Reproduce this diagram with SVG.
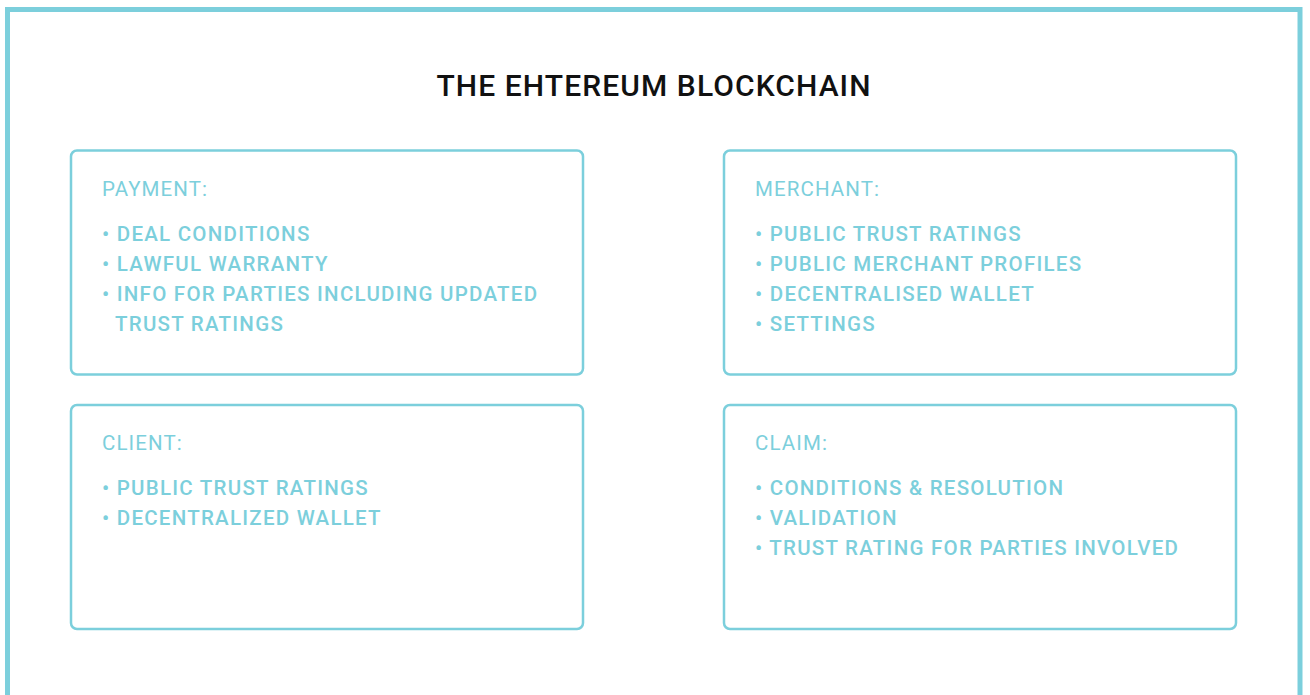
<svg xmlns="http://www.w3.org/2000/svg" width="1310" height="695" viewBox="0 0 1310 695">
<style>
.frame{fill:none;stroke:#7ccfdc;stroke-width:5}
.box{fill:#fff;stroke:#7ccfdc;stroke-width:2.5}
.title{font-family:Roboto,"Liberation Sans",sans-serif;font-size:30px;font-weight:500;fill:#111;letter-spacing:1.1px}
.head{font-family:Roboto,"Liberation Sans",sans-serif;font-size:20.5px;font-weight:400;fill:#7ccfdc;letter-spacing:1.1px}
.item{font-family:Roboto,"Liberation Sans",sans-serif;font-size:20.5px;font-weight:500;fill:#7ccfdc;letter-spacing:1.25px}
</style>
<rect width="1310" height="695" fill="#fff"/>
<rect class="frame" x="7.5" y="9.5" width="1292.5" height="700"/>
<text class="title" x="654" y="96" text-anchor="middle">THE EHTEREUM BLOCKCHAIN</text>
<g id="payment">
<rect class="box" x="71" y="150.5" width="512" height="224" rx="6"/>
<text class="head" x="102" y="196">PAYMENT:</text>
<text class="item" x="102" y="241">• DEAL CONDITIONS</text>
<text class="item" x="102" y="271">• LAWFUL WARRANTY</text>
<text class="item" x="102" y="301">• INFO FOR PARTIES INCLUDING UPDATED</text>
<text class="item" x="115" y="331">TRUST RATINGS</text>
</g>
<g id="merchant">
<rect class="box" x="724" y="150.5" width="512" height="224" rx="6"/>
<text class="head" x="755" y="196">MERCHANT:</text>
<text class="item" x="755" y="241">• PUBLIC TRUST RATINGS</text>
<text class="item" x="755" y="271">• PUBLIC MERCHANT PROFILES</text>
<text class="item" x="755" y="301">• DECENTRALISED WALLET</text>
<text class="item" x="755" y="331">• SETTINGS</text>
</g>
<g id="client">
<rect class="box" x="71" y="405" width="512" height="224" rx="6"/>
<text class="head" x="102" y="450">CLIENT:</text>
<text class="item" x="102" y="495">• PUBLIC TRUST RATINGS</text>
<text class="item" x="102" y="525">• DECENTRALIZED WALLET</text>
</g>
<g id="claim">
<rect class="box" x="724" y="405" width="512" height="224" rx="6"/>
<text class="head" x="755" y="450">CLAIM:</text>
<text class="item" x="755" y="495">• CONDITIONS &amp; RESOLUTION</text>
<text class="item" x="755" y="525">• VALIDATION</text>
<text class="item" x="755" y="555">• TRUST RATING FOR PARTIES INVOLVED</text>
</g>
<g id="connectors"/>
</svg>
